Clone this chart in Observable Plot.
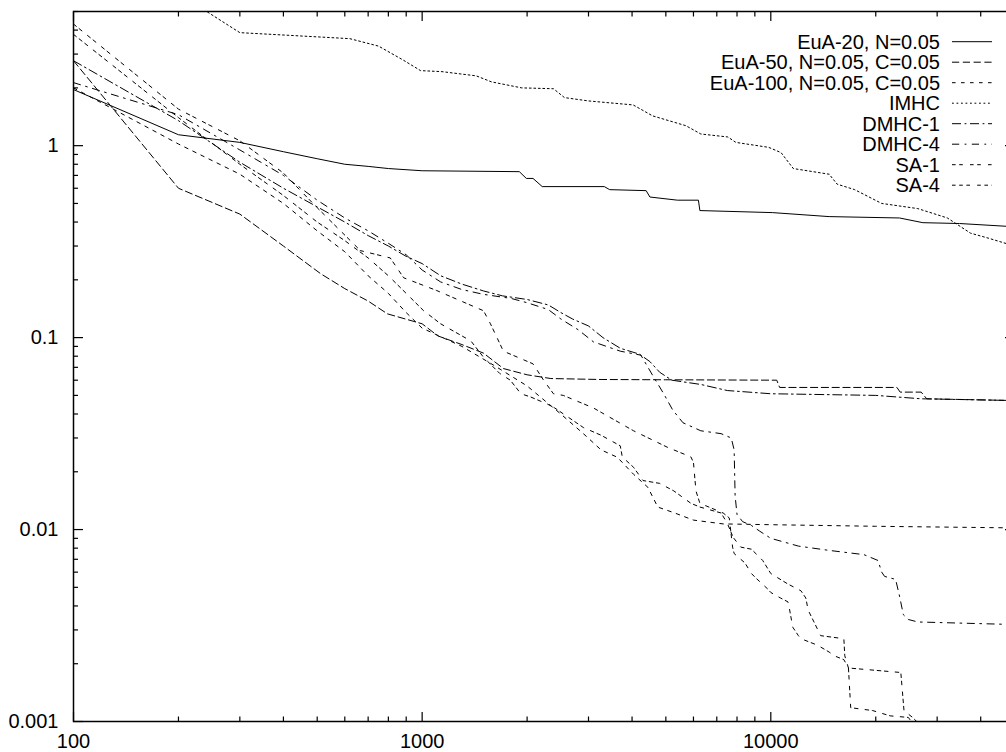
<!DOCTYPE html>
<html>
<head>
<meta charset="utf-8">
<script src="https://cdn.jsdelivr.net/npm/d3@7"></script>
<script src="https://cdn.jsdelivr.net/npm/@observablehq/plot@0.6"></script>
<style>
  html, body { margin: 0; padding: 0; background: #fff; overflow: hidden; }
  #chart svg { display: block; }
</style>
</head>
<body>
<div id="chart"></div>
<script>
// ---- data (evaluations, error) ----
const seriesNames = ["EuA-20, N=0.05", "EuA-50, N=0.05, C=0.05", "EuA-100, N=0.05, C=0.05", "IMHC", "DMHC-1", "DMHC-4", "SA-1", "SA-4"];

const euA20 = [[100,1.96],[200,1.14],[300,1.04],[400,0.93],[500,0.855],[600,0.8],[700,0.78],[800,0.76],[1000,0.74],[1900,0.732],[1990,0.675],[2080,0.675],[2210,0.612],[3330,0.612],[3450,0.59],[4390,0.583],[4500,0.54],[5400,0.52],[6200,0.52],[6260,0.459],[10100,0.448],[14700,0.427],[23400,0.42],[27300,0.397],[34800,0.393],[50000,0.378]];

const euA50 = [[100,2.77],[200,0.6],[300,0.44],[400,0.3],[512,0.215],[600,0.18],[700,0.155],[795,0.133],[1000,0.118],[1110,0.102],[1300,0.092],[1500,0.083],[1710,0.069],[2000,0.064],[2340,0.0612],[3260,0.0605],[5000,0.0603],[10400,0.06],[10600,0.055],[23000,0.055],[23500,0.052],[27000,0.052],[28000,0.048],[50000,0.047]];

const euA100 = [[100,2.0],[200,1.02],[300,0.71],[400,0.5],[500,0.36],[600,0.28],[700,0.21],[800,0.17],[900,0.135],[1000,0.112],[1300,0.09],[1600,0.072],[2000,0.056],[2490,0.0402],[2900,0.0316],[3260,0.026],[3630,0.0238],[4040,0.0194],[4440,0.0166],[4740,0.0131],[5300,0.0122],[6000,0.0112],[7300,0.0107],[10000,0.0106],[20000,0.0104],[50000,0.0102]];

const imhc = [[100,9],[200,6.2],[300,3.88],[620,3.61],[750,3.3],[880,2.8],[990,2.46],[1140,2.43],[1430,2.31],[1580,2.15],[1930,2.0],[2380,1.98],[2560,1.78],[3000,1.71],[4030,1.63],[4580,1.43],[5710,1.27],[6300,1.15],[7530,1.11],[7940,1.04],[9860,0.98],[10700,0.92],[11600,0.76],[14700,0.71],[15500,0.63],[17400,0.59],[20800,0.5],[26400,0.47],[32100,0.42],[37400,0.35],[42000,0.33],[50000,0.3]];

const dmhc1 = [[100,2.77],[200,1.35],[300,0.82],[400,0.6],[500,0.48],[600,0.4],[700,0.34],[800,0.3],[900,0.265],[1000,0.243],[1130,0.21],[1300,0.19],[1500,0.175],[1700,0.165],[2000,0.158],[2300,0.148],[2500,0.135],[2700,0.125],[3000,0.115],[3300,0.1],[3700,0.088],[4200,0.082],[4500,0.075],[4800,0.066],[5200,0.06],[6300,0.057],[7500,0.053],[10000,0.051],[20000,0.05],[27000,0.048],[50000,0.047]];

const dmhc4 = [[100,2.13],[200,1.45],[300,0.95],[400,0.7],[500,0.52],[600,0.42],[700,0.36],[800,0.31],[900,0.27],[1000,0.225],[1130,0.195],[1300,0.178],[1500,0.168],[1800,0.16],[2000,0.152],[2300,0.14],[2500,0.125],[2800,0.11],[3100,0.095],[3700,0.085],[4240,0.081],[4620,0.062],[4930,0.051],[5230,0.042],[5600,0.036],[6300,0.0327],[7200,0.0316],[7700,0.03],[7850,0.026],[7900,0.015],[8000,0.012],[8300,0.011],[8800,0.0105],[9300,0.0098],[10000,0.009],[12000,0.0082],[14600,0.0078],[18500,0.0074],[20300,0.0069],[20800,0.006],[21200,0.0057],[22800,0.0055],[23400,0.0045],[24000,0.0036],[24800,0.0034],[26400,0.0033],[50000,0.0032]];

const sa1 = [[100,4.3],[200,1.55],[300,1.06],[400,0.72],[500,0.475],[665,0.284],[810,0.26],[885,0.205],[1100,0.176],[1500,0.138],[1570,0.118],[1710,0.085],[2080,0.073],[2230,0.06],[2380,0.051],[2540,0.05],[3100,0.043],[3260,0.0408],[4040,0.0327],[5060,0.0268],[5900,0.0239],[6000,0.0224],[6100,0.0159],[6260,0.0137],[7300,0.0122],[7600,0.0115],[7770,0.0081],[7850,0.0075],[8430,0.0067],[8800,0.0059],[9050,0.0056],[9800,0.0049],[10000,0.0047],[10660,0.0044],[11200,0.0042],[11300,0.0039],[11560,0.0031],[12000,0.0028],[12200,0.0027],[13600,0.0025],[14700,0.0023],[15200,0.0022],[16200,0.0021],[16700,0.0019],[16950,0.00118],[19600,0.00114],[22000,0.00107],[24800,0.00105],[25500,0.00098]];

const sa4 = [[100,3.8],[200,1.4],[300,0.8],[400,0.55],[500,0.4],[600,0.32],[700,0.26],[800,0.21],[900,0.17],[1010,0.138],[1130,0.118],[1380,0.096],[1500,0.079],[1670,0.065],[1790,0.06],[1920,0.051],[2050,0.049],[2290,0.045],[2400,0.043],[2900,0.034],[3260,0.031],[3700,0.0273],[3750,0.0239],[4040,0.0211],[4300,0.018],[4800,0.0174],[5270,0.0159],[5900,0.0137],[6260,0.0131],[7200,0.0122],[7500,0.0108],[7800,0.0091],[8200,0.0081],[8800,0.0079],[9480,0.0069],[10000,0.0059],[11200,0.0052],[12200,0.0048],[12600,0.0044],[12800,0.0038],[13300,0.0033],[13900,0.0028],[16200,0.0027],[16300,0.0022],[16700,0.0019],[23600,0.0018],[24100,0.00114],[25500,0.00105],[26500,0.00098]];

const xMajor = [100, 1000, 10000];
const yMajor = [0.001, 0.01, 0.1, 1];
const xMinor = [200,300,400,500,600,700,800,900,2000,3000,4000,5000,6000,7000,8000,9000,20000,30000,40000,50000];
const yMinor = [0.002,0.003,0.004,0.005,0.006,0.007,0.008,0.009,0.02,0.03,0.04,0.05,0.06,0.07,0.08,0.09,0.2,0.3,0.4,0.5,0.6,0.7,0.8,0.9,2,3,4,5];

// ---- styling ----
const dl = 1.8;
const dashes = [
  null,
  [4,2],
  [2,3],
  [1,1.5],
  [5,2,1,2],
  [4,3,1,3],
  [2,2,2,4],
  [2,2,2,2,2,4]
].map(p => p ? p.map(v => v * dl).join(",") : null);

const allSeries = [euA20, euA50, euA100, imhc, dmhc1, dmhc4, sa1, sa4];

const lineMarks = allSeries.map((s, i) => Plot.line(s, {
  x: d => d[0], y: d => d[1],
  stroke: "#000", strokeWidth: 1,
  strokeDasharray: dashes[i] || undefined,
  clip: true
}));

const chart = Plot.plot({
  width: 1024, height: 752,
  marginLeft: 73, marginRight: 10, marginTop: 11, marginBottom: 31,
  style: {fontFamily: "'Liberation Sans', Arial, Helvetica, sans-serif", fontSize: "20px", background: "#fff", maxWidth: "none", color: "#000"},
  x: {type: "log", domain: [100, 50000], axis: null},
  y: {type: "log", domain: [0.001, 5], axis: null},
  marks: [
    ...lineMarks,
    Plot.axisX(xMinor, {anchor: "bottom", tickSize: -4.5, fill: "none", label: null, strokeWidth: 1.2}),
    Plot.axisX(xMinor, {anchor: "top", tickSize: -4.5, fill: "none", label: null, strokeWidth: 1.2}),
    Plot.axisY(yMinor, {anchor: "left", tickSize: -5, fill: "none", label: null, strokeWidth: 1.2}),
    Plot.axisY(yMinor, {anchor: "right", tickSize: -5, fill: "none", label: null, strokeWidth: 1.2}),
    Plot.axisX(xMajor, {anchor: "bottom", tickSize: -9, tickPadding: 21, tickFormat: d => String(d), label: null, strokeWidth: 1.2}),
    Plot.axisX(xMajor, {anchor: "top", tickSize: -9, fill: "none", label: null, strokeWidth: 1.2}),
    Plot.axisY(yMajor, {anchor: "left", tickSize: -10, tickPadding: 25, tickFormat: d => String(d), label: null, strokeWidth: 1.2}),
    Plot.axisY(yMajor, {anchor: "right", tickSize: -10, fill: "none", label: null, strokeWidth: 1.2}),
    Plot.frame({stroke: "#000", strokeWidth: 1.5})
  ]
});

document.getElementById("chart").appendChild(chart);

// ---- legend (inside the frame, top right) ----
const lg = d3.select(chart).append("g").attr("class", "legend").style("font-size", "20px");
seriesNames.forEach((name, i) => {
  const y = 41.7 + 20.5 * i;
  lg.append("text")
    .attr("x", 940).attr("y", y).attr("dy", "0.35em")
    .attr("text-anchor", "end").attr("fill", "#000")
    .text(name);
  const ln = lg.append("line")
    .attr("x1", 952).attr("x2", 992).attr("y1", y).attr("y2", y)
    .attr("stroke", "#000").attr("stroke-width", 1);
  if (dashes[i]) ln.attr("stroke-dasharray", dashes[i]);
});
</script>
</body>
</html>
